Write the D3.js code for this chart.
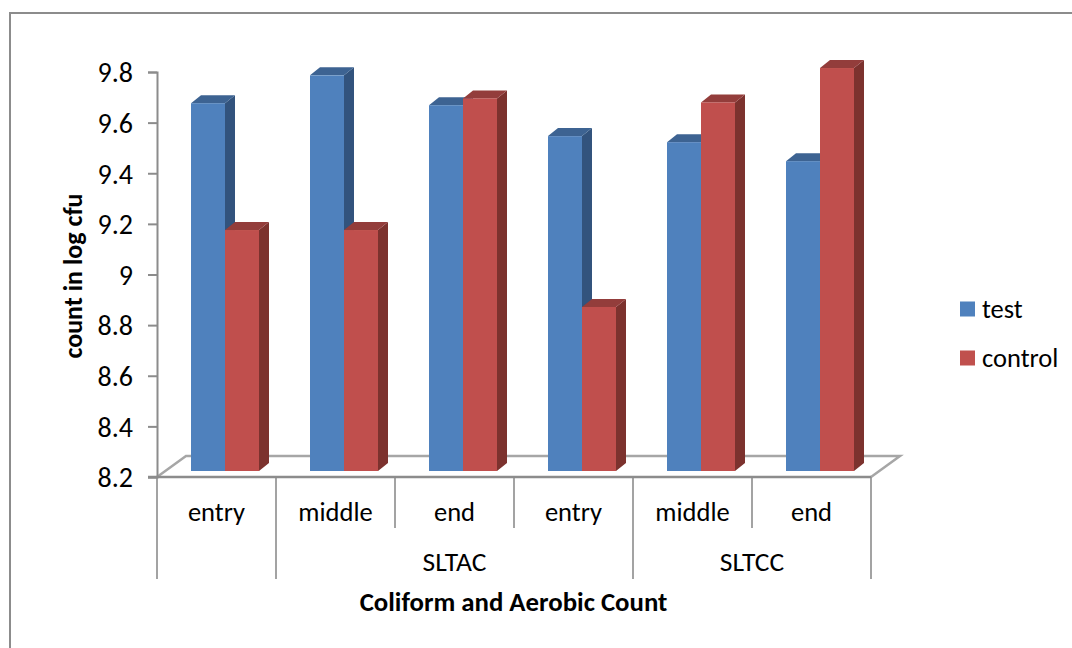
<!DOCTYPE html>
<html><head><meta charset="utf-8">
<script src="https://cdn.jsdelivr.net/npm/d3@7"></script>
<style>html,body{margin:0;background:#fff}svg{display:block}text{font-family:Carlito,Lato,"Open Sans",sans-serif;fill:#000}</style>
</head><body><svg id="c" width="1072" height="648"></svg>
<script>
const subLabels = ["entry","middle","end","entry","middle","end"];
const groupLabels = [["",0,1],["SLTAC",1,4],["SLTCC",4,6]];
const testValues = [9.653,9.763,9.645,9.523,9.499,9.424];
const controlValues = [9.152,9.152,9.672,8.848,9.656,9.792];
const yTicks = [8.2,8.4,8.6,8.8,9,9.2,9.4,9.6,9.8];
const seriesNames = ["test","control"];
const seriesData = [testValues,controlValues];
const colors = [["#4f81bd","#3c6392","#30527d"],["#c0504d","#933d3b","#7c302e"]];

const svg = d3.select("#c"), grey="#8c8c8c", fs="26.5px";
const L=157,R=871,T=72,B=477, fdx=29, fdy=21;
const ox=8.5, oy=6, dx=10, dy=8;
const x0=d3.scaleBand().domain(d3.range(6)).range([L,R]).paddingInner(3/7).paddingOuter(3/14);
const x1=d3.scaleBand().domain([0,1]).range([0,x0.bandwidth()]);
const edge=d3.scaleLinear().domain([0,6]).range([L,R]);
const y=d3.scaleLinear().domain([8.2,9.8]).range([B,T]);

svg.append("rect").attr("x",10).attr("y",13).attr("width",1100).attr("height",700).attr("fill","#fff").attr("stroke",grey).attr("stroke-width",2);

// floor
svg.append("path").attr("fill","none").attr("stroke","#a6a6a6").attr("stroke-width",2.5)
 .attr("d",d3.line()([[L,B],[L+fdx,B-fdy],[R+fdx,B-fdy],[R,B]]));

// bars
const blur=svg.append("defs").append("filter").attr("id","b").attr("x","-10%").attr("y","-10%").attr("width","120%").attr("height","120%");
blur.append("feGaussianBlur").attr("stdDeviation",0.5);
const gb=svg.append("g").attr("filter","url(#b)");
seriesData[0].forEach((_,i)=>{
 seriesData.forEach((vals,s)=>{
  const xa=x0(i)+x1(s)+ox,w=x1.bandwidth(),yt=y(vals[i])-oy,yb=B-oy;
  gb.append("path").attr("fill",colors[s][2]).attr("d",d3.line()([[xa+w,yt],[xa+w+dx,yt-dy],[xa+w+dx,yb-dy],[xa+w,yb]])+"Z");
  gb.append("path").attr("fill",colors[s][1]).attr("d",d3.line()([[xa,yt],[xa+dx,yt-dy],[xa+w+dx,yt-dy],[xa+w,yt]])+"Z");
  gb.append("rect").attr("x",xa).attr("y",yt).attr("width",w).attr("height",yb-yt).attr("fill",colors[s][0]);
 });
});

// y axis
const ay=svg.append("g").attr("transform",`translate(${L},0)`).call(d3.axisLeft(y).tickValues(yTicks).tickSize(9).tickPadding(15).tickFormat(d=>String(+d)));
ay.selectAll("path,line").attr("stroke",grey).attr("stroke-width",2);
ay.selectAll("text").style("font-size","28px").attr("font-family",null).attr("dy","0.35em");

// category axis
const ax=svg.append("g");
ax.append("line").attr("x1",L-9).attr("x2",R).attr("y1",B).attr("y2",B).attr("stroke",grey).attr("stroke-width",2.5);
d3.range(7).forEach(i=>{
 const isGroup=groupLabels.some(g=>g[1]===i||g[2]===i);
 ax.append("line").attr("x1",edge(i)).attr("x2",edge(i)).attr("y1",B).attr("y2",isGroup?579:528).attr("stroke",grey).attr("stroke-width",1.6);
});
subLabels.forEach((t,i)=>ax.append("text").attr("x",edge(i+.5)).attr("y",521).attr("text-anchor","middle").style("font-size",fs).text(t));
groupLabels.forEach(g=>ax.append("text").attr("x",edge((g[1]+g[2])/2)).attr("y",571).attr("text-anchor","middle").style("font-size","27.5px").text(g[0]));

svg.append("text").attr("x",513.5).attr("y",611).attr("text-anchor","middle").style("font-size","26.8px").style("font-weight","700").text("Coliform and Aerobic Count");
svg.append("text").attr("transform","translate(82,276) rotate(-90)").attr("text-anchor","middle").style("font-size","26px").style("font-weight","700").text("count in log cfu");

// legend
const ly=d3.scalePoint().domain(seriesNames).range([309,358]);
seriesNames.forEach((n,s)=>{
 svg.append("rect").attr("x",960).attr("y",ly(n)-7.5).attr("width",15).attr("height",15).attr("fill",colors[s][0]);
 svg.append("text").attr("x",982).attr("y",ly(n)+9).style("font-size",fs).text(n);
});
</script></body></html>
